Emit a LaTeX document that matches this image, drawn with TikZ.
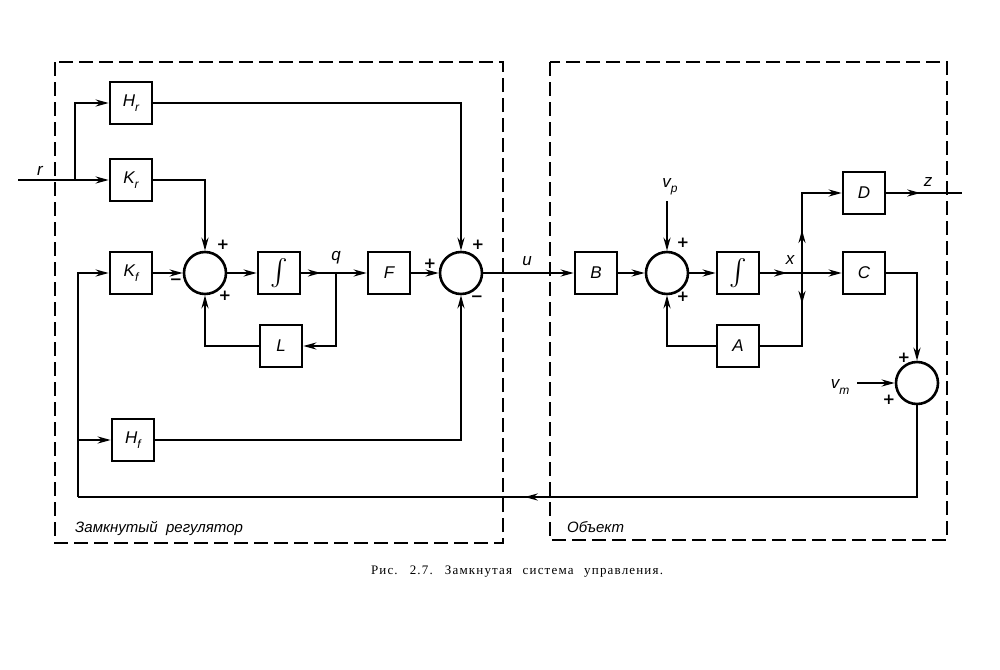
\documentclass[tikz,border=0pt]{standalone}
\usepackage{graphicx}
\usepackage{fontspec}
\setmainfont{Liberation Sans}
\newfontfamily\capfont[LetterSpace=9,WordSpace=2.4]{Liberation Serif}
\newfontfamily\signfont{DejaVu Sans}
\usetikzlibrary{arrows.meta,decorations.markings}
\newcommand\sbs[1]{\raisebox{-0.6ex}{\fontsize{12}{12}\selectfont #1}}
\newcommand\integ{\resizebox{!}{26pt}{$\int$}}
\tikzset{
  >={Stealth[length=13pt,width=7pt]},
  blk/.style={draw, line width=2.6pt, minimum width=42pt, minimum height=42pt, inner sep=0pt,
    font=\fontsize{17}{17}\selectfont\itshape},
  sumn/.style={draw, circle, line width=2.6pt, minimum size=42pt, inner sep=0pt},
  sig/.style={line width=2.4pt},
  midarrow/.style={postaction={decorate}, decoration={markings, mark=at position #1 with {\arrow{>}}}},
  frame/.style={line width=2.6pt, dash pattern=on 14pt off 6pt},
  lbl/.style={font=\fontsize{17}{17}\selectfont\itshape, inner sep=0pt},
  sgn/.style={font=\fontsize{15}{15}\selectfont\signfont\bfseries, inner sep=0pt},
  reg/.style={font=\fontsize{15}{15}\selectfont\itshape, inner sep=0pt, anchor=west},
}
\begin{document}
\begin{tikzpicture}[x=1pt,y=-1pt]
\useasboundingbox (0,0) rectangle (1000,669);
% frames
\draw[frame] (55,62) rectangle (503,543);
\draw[frame] (550,62) rectangle (947,540);
% blocks
\node[blk] (hr) at (131,103) {H\sbs{r}};
\node[blk] (kr) at (131,180) {K\sbs{r}};
\node[blk] (kf) at (131,273) {K\sbs{f}};
\node[blk] (hf) at (133,440) {H\sbs{f}};
\node[sumn] (s1) at (205,273) {};
\node[blk] (i1) at (279,273) {\integ};
\node[blk] (f) at (389,273) {F};
\node[sumn] (s2) at (461,273) {};
\node[blk] (l) at (281,346) {L};
\node[blk] (b) at (596,273) {B};
\node[sumn] (s3) at (667,273) {};
\node[blk] (i2) at (738,273) {\integ};
\node[blk] (d) at (864,193) {D};
\node[blk] (c) at (864,273) {C};
\node[blk] (a) at (738,346) {A};
\node[sumn] (s4) at (917,383) {};
% coordinates
\coordinate (rin) at (18,180);
\coordinate (rb) at (75,180);
\coordinate (q) at (336,273);
\coordinate (xj) at (802,273);
\coordinate (vp) at (667,201);
\coordinate (vm) at (857,383);
\coordinate (zout) at (962,193);
\coordinate (fbl) at (78,497);
\coordinate (hfb) at (78,440);
% connectors
\draw[sig,->] (rin) -- (kr.west);
\draw[sig,->] (rb) |- (hr.west);
\draw[sig,->] (hr.east) -| (s2.north);
\draw[sig,->] (kr.east) -| (s1.north);
\draw[sig,->] (kf.east) -- (s1.west);
\draw[sig,->] (s1.east) -- (i1.west);
\draw[sig,->,midarrow=0.3] (i1.east) -- (f.west);
\draw[sig,->] (q) |- (l.east);
\draw[sig,->] (l.west) -| (s1.south);
\draw[sig,->] (f.east) -- (s2.west);
\draw[sig,->] (hf.east) -| (s2.south);
\draw[sig,->] (s2.east) -- (b.west);
\draw[sig,->] (b.east) -- (s3.west);
\draw[sig,->] (vp) -- (s3.north);
\draw[sig,->] (s3.east) -- (i2.west);
\draw[sig,->,midarrow=0.33] (i2.east) -- (c.west);
\draw[sig,->,midarrow=0.36] (xj) |- (d.west);
\draw[sig,midarrow=0.27] (xj) |- (a.east);
\draw[sig,->] (a.west) -| (s3.south);
\draw[sig,midarrow=0.45] (d.east) -- (zout);
\draw[sig,->] (c.east) -| (s4.north);
\draw[sig,->] (vm) -- (s4.west);
\draw[sig,midarrow=0.52] (s4.south) |- (fbl);
\draw[sig,->] (fbl) |- (kf.west);
\draw[sig,->] (hfb) -- (hf.west);
% signal labels
\node[lbl] (tr) at (40,171) {r};
\node[lbl] (tq) at (336,258) {q};
\node[lbl] (tu) at (527,261) {u};
\node[lbl] (tx) at (790,260) {x};
\node[lbl] (tz) at (928,182) {z};
\node[lbl] (tvp) at (670,187) {v\sbs{p}};
\node[lbl] (tvm) at (840,387) {v\sbs{m}};
% signs
\node[sgn] at (223,245) {+};
\node[sgn] at (176,282) {−};
\node[sgn] at (225,296) {+};
\node[sgn] at (430,264) {+};
\node[sgn] at (478,245) {+};
\node[sgn] at (477,299) {−};
\node[sgn] at (683,243) {+};
\node[sgn] at (683,297) {+};
\node[sgn] at (904,358) {+};
\node[sgn] at (889,400) {+};
% region labels
\node[reg] (reg1) at (75,529) {Замкнутый\ \ регулятор};
\node[reg] (reg2) at (567,527) {Объект};
% caption
\node[font=\fontsize{13}{13}\selectfont\capfont, inner sep=0pt] (cap) at (517,572) {Рис. 2.7. Замкнутая система управления.};
\end{tikzpicture}
\end{document}
